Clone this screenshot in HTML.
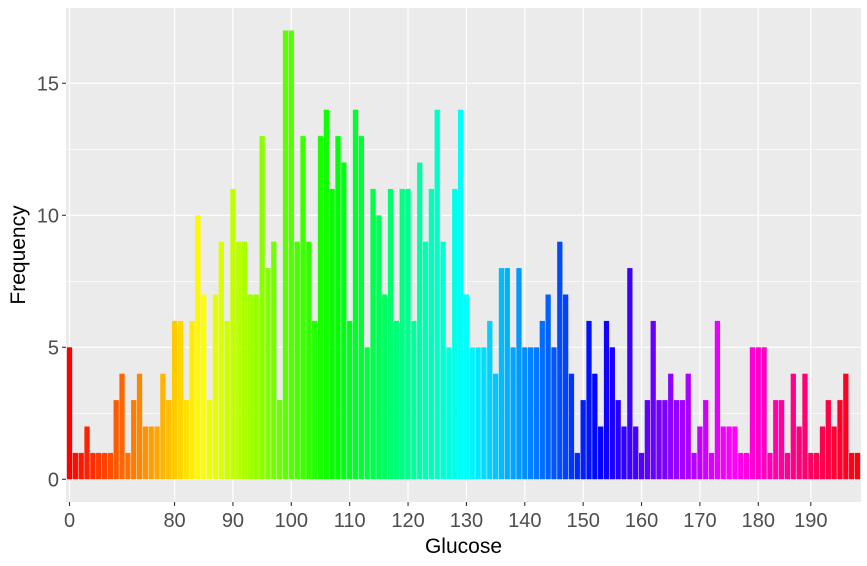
<!DOCTYPE html>
<html><head><meta charset="utf-8"><style>
body{margin:0;background:#fff;}
svg{display:block;font-family:"Liberation Sans",sans-serif;}
</style></head><body>
<svg id="chart" width="867" height="566" viewBox="0 0 867 566"></svg>
<script>
const categories=[0,44,56,57,61,62,65,67,68,71,72,73,74,75,76,77,78,79,
80,81,82,83,84,85,86,87,88,89,90,91,92,93,94,95,96,97,98,99,100,101,102,103,104,105,106,107,108,109,
110,111,112,113,114,115,116,117,118,119,120,121,122,123,124,125,126,127,128,129,130,131,132,133,134,135,136,137,138,139,
140,141,142,143,144,145,146,147,148,149,150,151,152,153,154,155,156,157,158,159,160,161,162,163,164,165,166,167,168,169,
170,171,172,173,174,175,176,177,178,179,180,181,182,183,184,186,187,188,189,190,191,192,193,194,195,196,197,198];
const counts=[5,1,1,2,1,1,1,1,3,4,1,3,4,2,2,2,4,3,
6,6,3,6,10,7,3,7,9,6,11,9,9,7,7,13,8,9,3,17,17,9,13,9,6,13,14,11,13,12,
6,14,13,5,11,10,7,11,6,11,11,6,12,9,11,14,9,5,11,14,7,5,5,5,6,4,8,8,5,8,
5,5,5,6,7,5,9,7,4,1,3,6,4,2,6,5,3,2,8,2,1,3,6,3,3,4,3,3,4,1,
2,3,1,6,2,2,2,1,1,5,5,5,1,3,3,1,4,2,4,1,1,2,3,2,3,4,1,1];
const xTickLabels=[0,80,90,100,110,120,130,140,150,160,170,180,190];
const yTickLabels=[0,5,10,15];
const yMinor=[2.5,7.5,12.5];

const NS="http://www.w3.org/2000/svg";
const svg=document.getElementById('chart');
const L=66,R=861,T=8,B=502;
const n=categories.length;
const step=(R-L)/(n-1+1.2);
function xPos(i){return L+step*(0.6+i);}
const y0=479.3,unit=26.4;
function yPos(v){return y0-v*unit;}
function mk(tag,attrs,parent){const e=document.createElementNS(NS,tag);for(const k in attrs)e.setAttribute(k,attrs[k]);(parent||svg).appendChild(e);return e;}

const panel=mk('rect',{x:L,y:T,width:R-L,height:B-T,fill:'#ebebeb'});


yMinor.forEach(v=>{const g=mk('line',{x1:L,x2:R,y1:yPos(v),y2:yPos(v),stroke:'#fff','stroke-width':0.6});

});
yTickLabels.forEach(v=>{const g=mk('line',{x1:L,x2:R,y1:yPos(v),y2:yPos(v),stroke:'#fff','stroke-width':1.2});

});
xTickLabels.forEach(v=>{const i=categories.indexOf(v);const g=mk('line',{x1:xPos(i),x2:xPos(i),y1:T,y2:B,stroke:'#fff','stroke-width':1.2});

});

const bw=step*0.9;
counts.forEach((c,i)=>{
  const hue=i/n*360;
  const r=mk('rect',{x:xPos(i)-bw/2,y:yPos(c),width:bw,height:c*unit,fill:'hsl('+hue+',100%,50%)'});
  
  
});

yTickLabels.forEach(v=>{
  const t=mk('line',{x1:L-4,x2:L,y1:yPos(v),y2:yPos(v),stroke:'#333','stroke-width':1.1});
  
  
  const tx=mk('text',{x:L-7,y:yPos(v)+7,'text-anchor':'end','font-size':20,fill:'#4d4d4d'});
  tx.textContent=v;
  
  
});
xTickLabels.forEach(v=>{
  const i=categories.indexOf(v);
  const t=mk('line',{x1:xPos(i),x2:xPos(i),y1:B,y2:B+4,stroke:'#333','stroke-width':1.1});
  
  
  const tx=mk('text',{x:xPos(i),y:B+25,'text-anchor':'middle','font-size':20,fill:'#4d4d4d'});
  tx.textContent=v;
  
  
});
const xt=mk('text',{x:(L+R)/2,y:553,'text-anchor':'middle','font-size':21,fill:'#000'});
xt.textContent='Glucose';


const yt=mk('text',{x:0,y:0,'text-anchor':'middle','font-size':21,fill:'#000',transform:'translate(25,'+((T+B)/2)+') rotate(-90)'});
yt.textContent='Frequency';


</script>
</body></html>
